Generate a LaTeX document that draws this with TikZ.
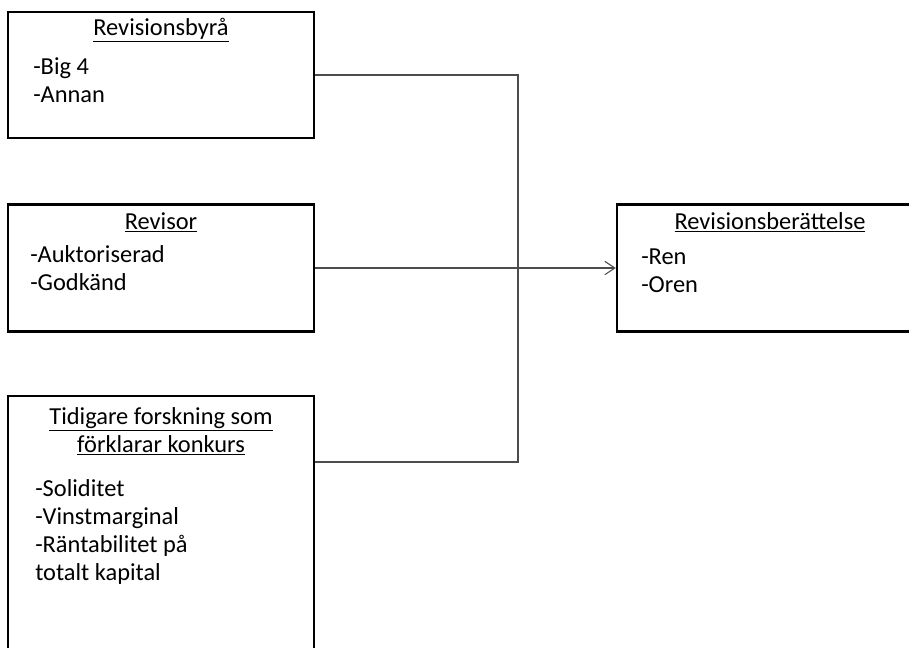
\documentclass[tikz,border=0pt]{standalone}
\usepackage{fontspec}
\setmainfont{Carlito}
\usetikzlibrary{arrows.meta,positioning}

\begin{document}
\begin{tikzpicture}[
  x=0.75pt,y=-0.75pt,
  every node/.style={font=\fontsize{18.3}{21}\selectfont},
  box/.style={draw,line width=1.8pt,minimum width=229.5pt,inner sep=0pt},
  head/.style={anchor=base,align=center,inner sep=0pt},
  items/.style={anchor=base west,align=left,inner sep=0pt},
  link/.style={draw=black!70,line width=0.8pt},
  arc/.style={link,-{Straight Barb[length=7.5pt,width=10pt]}}
]
\useasboundingbox[clip] (0,0) rectangle (909,647);
\node[box,minimum height=94.5pt] (byra) at (161,75) {};
\node[box,minimum height=95.25pt] (revisor) at (161,268) {};
\node[box,minimum height=205.5pt] (forskning) at (161,533) {};
\node[box,minimum height=95.25pt] (berattelse) at (770,268) {};
% rubriker och punkter (base = sista raden)
\node[head] (byrahead) at (161,35) {\underline{Revisionsbyrå}};
\node[items] (byraitems) at (33,102) {-Big 4\\-Annan};
\node[head] (revisorhead) at (161,229) {\underline{Revisor}};
\node[items] (revisoritems) at (30,290) {-Auktoriserad\\-Godkänd};
\node[head] (forskninghead) at (161,452) {\underline{Tidigare forskning som}\\\underline{förklarar konkurs}};
\node[items] (forskningitems) at (35,580) {-Soliditet\\-Vinstmarginal\\-Räntabilitet på\\totalt kapital};
\node[head] (berattelsehead) at (770,229) {\underline{Revisionsberättelse}};
\node[items] (berattelseitems) at (641,292) {-Ren\\-Oren};
\coordinate (join) at (518,462);
\draw[link] (byra.east) -| (join) -- (forskning.east |- join);
\draw[arc] (revisor.east) -- (berattelse.west);
\end{tikzpicture}
\end{document}
